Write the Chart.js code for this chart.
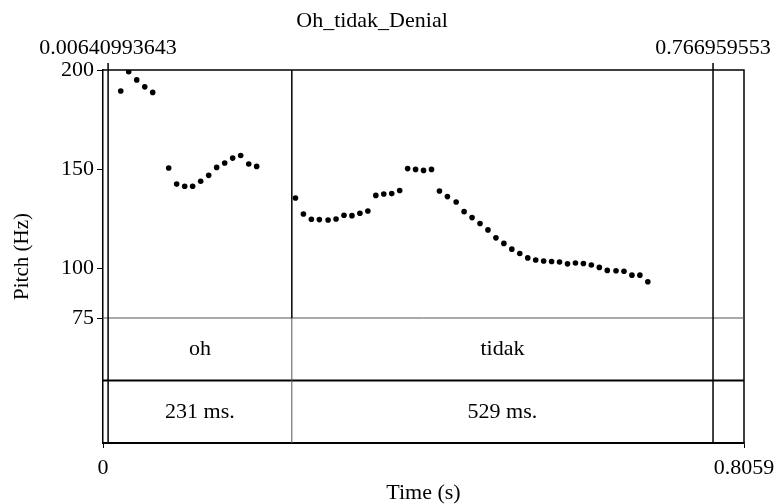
<!DOCTYPE html>
<html>
<head>
<meta charset="utf-8">
<script src="https://cdn.jsdelivr.net/npm/chart.js@4"></script>
<style>
  html, body { margin: 0; padding: 0; background: #fff; }
  #wrap { width: 777px; height: 504px; }
</style>
</head>
<body>
<div id="wrap"><canvas id="pitchChart" width="777" height="504"></canvas></div>
<script>
// pitch track (s, Hz)
const pitchTimes = [
   0.0223, 0.0323, 0.0424, 0.0525, 0.0625,
   0.0826, 0.0926, 0.1027, 0.1127, 0.1228, 0.1329, 0.1429, 0.1530, 0.1630, 0.1731, 0.1832, 0.1932,
   0.242, 0.252, 0.262, 0.272, 0.283, 0.293, 0.303, 0.313, 0.323, 0.333,
   0.343, 0.353, 0.363, 0.373, 0.383, 0.393, 0.403, 0.413, 0.423, 0.433,
   0.444, 0.454, 0.464, 0.474, 0.484, 0.494, 0.504, 0.514, 0.524, 0.534,
   0.544, 0.554, 0.564, 0.574, 0.584, 0.594, 0.604, 0.614, 0.624, 0.634,
   0.645, 0.655, 0.665, 0.675, 0.685
];
const pitchHz = [
   189.4, 199.1, 195.0, 191.5, 188.7,
   150.6, 142.5, 141.4, 141.4, 143.9, 146.9, 150.9, 153.1, 155.6, 156.9, 152.6, 151.4,
   135.5, 127.4, 124.8, 124.6, 124.4, 124.9, 126.8, 126.6, 127.8, 128.9,
   136.8, 137.5, 137.7, 139.3, 150.3, 149.9, 149.4, 149.9, 139.0, 136.2,
   133.5, 128.6, 125.6, 122.6, 119.4, 115.4, 112.6, 109.7, 107.5, 105.3,
   104.2, 103.7, 103.5, 103.2, 102.3, 102.7, 102.5, 101.7, 100.5, 99.0,
   98.8, 98.6, 96.6, 96.6, 93.3
];

// text grid
const intervalBounds = [0.00641, 0.2374, 0.76696];
const wordLabels = ["oh", "tidak"];
const durationLabels = ["231 ms.", "529 ms."];
const selectionTimes = [0.00641, 0.76696];
const selectionLabels = ["0.00640993643", "0.766959553"];

// axes
const yTicks = [75, 100, 150, 200];
const xTicks = [0, 0.8059];
const xTickLabels = ["0", "0.8059"];
const pitchFloor = 75;

const FONT = "'Liberation Serif', 'Times New Roman', serif";

const points = pitchTimes.map((t, i) => ({ x: t, y: pitchHz[i] }));

// draws the frame, selection marks and the two tiers under the pitch area
const textGridPlugin = {
   id: "textGrid",
   afterDatasetsDraw(chart) {
      const ctx = chart.ctx;
      const area = chart.chartArea;
      const xs = chart.scales.x;
      const ys = chart.scales.y;
      const floorY = ys.getPixelForValue(pitchFloor);
      const midY = (floorY + area.bottom) / 2;

      ctx.save();
      ctx.strokeStyle = "#000";

      // outer frame (top, right)
      ctx.lineWidth = 1.5;
      ctx.beginPath();
      ctx.moveTo(area.left, area.top);
      ctx.lineTo(area.right, area.top);
      ctx.lineTo(area.right, area.bottom);
      ctx.stroke();

      // tier separators
      ctx.strokeStyle = "#555";
      ctx.lineWidth = 1;
      ctx.beginPath();
      ctx.moveTo(area.left, floorY);
      ctx.lineTo(area.right, floorY);
      ctx.stroke();

      ctx.strokeStyle = "#000";
      ctx.lineWidth = 2;
      ctx.beginPath();
      ctx.moveTo(area.left, midY);
      ctx.lineTo(area.right, midY);
      ctx.moveTo(area.left, area.bottom);
      ctx.lineTo(area.right, area.bottom);
      ctx.stroke();

      // inner interval boundaries
      for (let i = 1; i < intervalBounds.length - 1; i++) {
         const bx = xs.getPixelForValue(intervalBounds[i]);
         ctx.strokeStyle = "#000";
         ctx.lineWidth = 1.5;
         ctx.beginPath();
         ctx.moveTo(bx, area.top);
         ctx.lineTo(bx, floorY);
         ctx.stroke();
         ctx.strokeStyle = "#555";
         ctx.lineWidth = 1;
         ctx.beginPath();
         ctx.moveTo(bx, floorY);
         ctx.lineTo(bx, area.bottom);
         ctx.stroke();
      }

      // selection lines with their labels
      ctx.fillStyle = "#000";
      ctx.font = "22px " + FONT;
      ctx.textAlign = "center";
      ctx.textBaseline = "alphabetic";
      selectionTimes.forEach((t, i) => {
         const sx = xs.getPixelForValue(t);
         ctx.strokeStyle = "#000";
         ctx.lineWidth = 1.5;
         ctx.beginPath();
         ctx.moveTo(sx, area.top - 7);
         ctx.lineTo(sx, area.bottom);
         ctx.stroke();
         ctx.fillText(selectionLabels[i], sx, area.top - 16);
      });

      // tier texts
      ctx.textBaseline = "middle";
      for (let i = 0; i < wordLabels.length; i++) {
         const cx = (xs.getPixelForValue(intervalBounds[i]) + xs.getPixelForValue(intervalBounds[i + 1])) / 2;
         ctx.fillText(wordLabels[i], cx, (floorY + midY) / 2);
         ctx.fillText(durationLabels[i], cx, (midY + area.bottom) / 2);
      }
      ctx.restore();
   },
};

new Chart(document.getElementById("pitchChart"), {
   type: "scatter",
   data: {
      datasets: [
         {
            label: "Pitch",
            data: points,
            pointRadius: 2.8,
            pointHoverRadius: 2.8,
            pointBackgroundColor: "#000",
            pointBorderWidth: 0,
            showLine: false,
         },
      ],
   },
   options: {
      responsive: false,
      animation: false,
      devicePixelRatio: 1,
      layout: { padding: { left: 0, right: 33, top: 0, bottom: 0 } },
      plugins: {
         legend: { display: false },
         tooltip: { enabled: false },
         title: {
            display: true,
            text: "Oh_tidak_Denial",
            color: "#000",
            font: { family: FONT, size: 22, weight: "normal" },
            padding: { top: 8, bottom: 35.6 },
         },
      },
      scales: {
         x: {
            type: "linear",
            min: 0,
            max: 0.8059,
            afterBuildTicks: (scale) => {
               scale.ticks = xTicks.map((v) => ({ value: v }));
            },
            afterFit: (scale) => {
               scale.height = 61;
               scale.paddingLeft = 0;
               scale.paddingRight = 0;
            },
            ticks: {
               color: "#000",
               font: { family: FONT, size: 22 },
               padding: 7,
               maxRotation: 0,
               autoSkip: false,
               callback: (v, i) => xTickLabels[i],
            },
            grid: { drawOnChartArea: false, drawTicks: true, tickLength: 5, color: "#000" },
            border: { display: true, color: "#000", width: 1.5 },
            title: {
               display: true,
               text: "Time (s)",
               color: "#000",
               font: { family: FONT, size: 22, lineHeight: 1.0 },
               padding: { top: 0, bottom: 0 },
            },
         },
         y: {
            type: "linear",
            min: 12,
            max: 200,
            afterBuildTicks: (scale) => {
               scale.ticks = yTicks.map((v) => ({ value: v }));
            },
            afterFit: (scale) => {
               scale.width = 103;
            },
            ticks: {
               color: "#000",
               font: { family: FONT, size: 22 },
               padding: 3,
               autoSkip: false,
            },
            grid: { drawOnChartArea: false, drawTicks: true, tickLength: 6, color: "#000" },
            border: { display: true, color: "#000", width: 1.5 },
            title: {
               display: true,
               text: "Pitch (Hz)",
               color: "#000",
               font: { family: FONT, size: 21 },
               padding: { top: 10, bottom: 0 },
            },
         },
      },
   },
   plugins: [textGridPlugin],
});
</script>
</body>
</html>
